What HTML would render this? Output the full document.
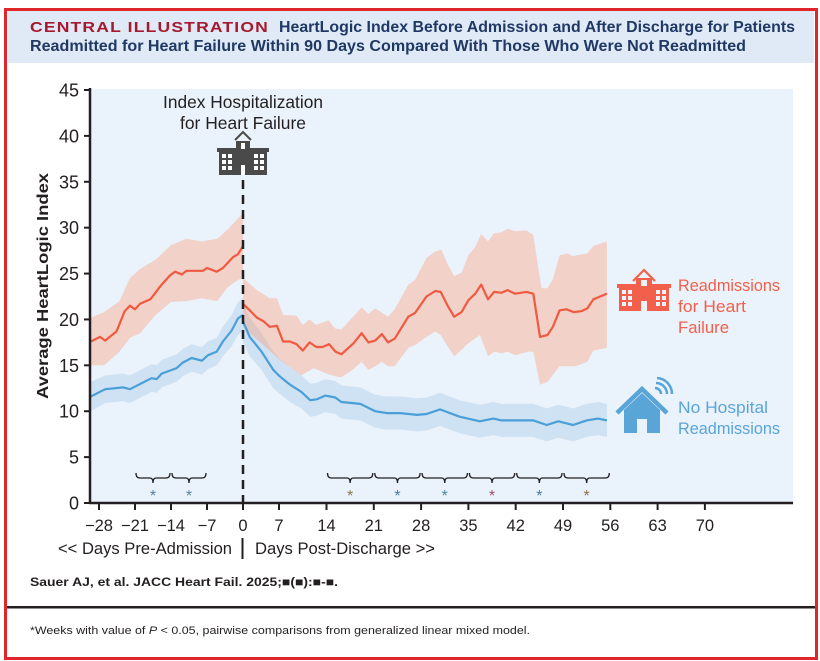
<!DOCTYPE html>
<html><head><meta charset="utf-8"><style>
html,body{margin:0;padding:0;background:#fff;}
svg{display:block;}
text{font-family:"Liberation Sans Narrow","Liberation Sans",sans-serif;}
</style></head><body>
<svg id="chart" width="820" height="661" viewBox="0 0 820 661" xmlns="http://www.w3.org/2000/svg">
<rect x="0" y="0" width="820" height="661" fill="#fff"/>
<rect x="8" y="11" width="806" height="52" fill="#dfeaf6"/>
<text x="30" y="32" font-size="15" font-weight="bold" fill="#a6192e" textLength="239" lengthAdjust="spacingAndGlyphs" style="font-family:'Liberation Sans',sans-serif;letter-spacing:1px">CENTRAL ILLUSTRATION</text>
<text x="279" y="32" font-size="15.5" font-weight="bold" fill="#1f3864" textLength="516" lengthAdjust="spacingAndGlyphs">HeartLogic Index Before Admission and After Discharge for Patients</text>
<text x="30" y="51" font-size="15.5" font-weight="bold" fill="#1f3864" textLength="716" lengthAdjust="spacingAndGlyphs">Readmitted for Heart Failure Within 90 Days Compared With Those Who Were Not Readmitted</text>
<rect x="90" y="89" width="703" height="414" fill="#eaf2fb"/>
<g id="marks"></g>
<g id="axes"></g>
<text x="243" y="108" font-size="17.5" fill="#231f20" text-anchor="middle" textLength="160" lengthAdjust="spacingAndGlyphs">Index Hospitalization</text>
<text x="243" y="129" font-size="17.5" fill="#231f20" text-anchor="middle" textLength="126" lengthAdjust="spacingAndGlyphs">for Heart Failure</text>
<g fill="#4a4a4a">
<polyline points="235,140 243,132 251,140" fill="none" stroke="#4a4a4a" stroke-width="2"/>
<rect x="217" y="148" width="52" height="4"/>
<rect x="219" y="151" width="48" height="24"/>
<rect x="236" y="141" width="14" height="10"/>
<g fill="#fff"><rect x="222" y="154" width="4" height="4"/><rect x="228" y="154" width="4" height="4"/><rect x="222" y="160" width="4" height="4"/><rect x="228" y="160" width="4" height="4"/><rect x="222" y="166" width="4" height="4"/><rect x="228" y="166" width="4" height="4"/><rect x="254" y="154" width="4" height="4"/><rect x="260" y="154" width="4" height="4"/><rect x="254" y="160" width="4" height="4"/><rect x="260" y="160" width="4" height="4"/><rect x="254" y="166" width="4" height="4"/><rect x="260" y="166" width="4" height="4"/><rect x="241" y="165" width="4" height="10"/><rect x="241" y="143" width="4" height="6"/></g>
</g>
<line x1="243" y1="180" x2="243" y2="503" stroke="#231f20" stroke-width="2.5" stroke-dasharray="9,6"/>
<text transform="translate(48,286) rotate(-90)" font-size="16" font-weight="bold" fill="#231f20" text-anchor="middle" textLength="226" lengthAdjust="spacingAndGlyphs">Average HeartLogic Index</text>
<text x="58" y="554" font-size="17" fill="#231f20" textLength="174" lengthAdjust="spacingAndGlyphs">&lt;&lt; Days Pre-Admission</text>
<rect x="241.5" y="538" width="2" height="21" fill="#231f20"/>
<text x="255" y="554" font-size="17" fill="#231f20" textLength="180" lengthAdjust="spacingAndGlyphs">Days Post-Discharge &gt;&gt;</text>
<g>
<g fill="#f2604b">
<polyline points="633,281 644,270 655,281" fill="none" stroke="#f2604b" stroke-width="2.2"/>
<rect x="617" y="284" width="54" height="4"/>
<rect x="619" y="287" width="50" height="24"/>
<rect x="636" y="278" width="16" height="10"/>
<g fill="#eaf2fb"><rect x="622" y="290" width="4" height="4"/><rect x="628" y="290" width="4" height="4"/><rect x="622" y="296" width="4" height="4"/><rect x="628" y="296" width="4" height="4"/><rect x="622" y="302" width="4" height="4"/><rect x="628" y="302" width="4" height="4"/><rect x="656" y="290" width="4" height="4"/><rect x="662" y="290" width="4" height="4"/><rect x="656" y="296" width="4" height="4"/><rect x="662" y="296" width="4" height="4"/><rect x="656" y="302" width="4" height="4"/><rect x="662" y="302" width="4" height="4"/><rect x="641" y="301" width="6" height="10"/><rect x="641" y="280" width="6" height="6"/></g>
</g>
<text x="678" y="291" font-size="17" fill="#f2604b" textLength="102" lengthAdjust="spacingAndGlyphs">Readmissions</text>
<text x="678" y="312" font-size="17" fill="#f2604b" textLength="68" lengthAdjust="spacingAndGlyphs">for Heart</text>
<text x="678" y="333" font-size="17" fill="#f2604b" textLength="51" lengthAdjust="spacingAndGlyphs">Failure</text>
</g>
<g>
<g>
<polyline points="617,413 642,389 667,413" fill="none" stroke="#5aa5d8" stroke-width="4.5"/>
<path d="M624,410 L642,393 L660,410 L660,433 L647,433 L647,419 L637,419 L637,433 L624,433 Z" fill="#5aa5d8"/>
<path d="M655,388 A6,6 0 0 1 661,394" fill="none" stroke="#5aa5d8" stroke-width="2.5"/>
<path d="M656,383 A11,11 0 0 1 667,394" fill="none" stroke="#5aa5d8" stroke-width="2.5"/>
<path d="M657,378 A16,16 0 0 1 672,394" fill="none" stroke="#5aa5d8" stroke-width="2.5"/>
</g>
<text x="678" y="413" font-size="17" fill="#5aa5d8" textLength="90" lengthAdjust="spacingAndGlyphs">No Hospital</text>
<text x="678" y="434" font-size="17" fill="#5aa5d8" textLength="102" lengthAdjust="spacingAndGlyphs">Readmissions</text>
</g>
<text x="30" y="586" font-size="12" font-weight="bold" fill="#231f20" textLength="308" lengthAdjust="spacingAndGlyphs">Sauer AJ, et al. JACC Heart Fail. 2025;■(■):■-■.</text>
<rect x="6" y="606" width="810" height="2.5" fill="#231f20"/>
<text x="30" y="634" font-size="11" fill="#231f20" textLength="500" lengthAdjust="spacingAndGlyphs">*Weeks with value of <tspan font-style="italic">P</tspan> &lt; 0.05, pairwise comparisons from generalized linear mixed model.</text>
<rect x="5.5" y="9.5" width="811" height="649" fill="none" stroke="#e0262b" stroke-width="3"/>
</svg>
<script>
// ---- data ----
const redPreDays = [-29.6,-27.8,-26.8,-24.6,-23,-22,-21,-20,-18,-16.1,-14.2,-13.2,-11.9,-11,-7.8,-7,-5.1,-3.9,-1.9,-1,0];
const redPre = [17.6,18.1,17.7,18.7,20.9,21.5,21.1,21.7,22.2,23.6,24.8,25.2,24.9,25.3,25.3,25.6,25.2,25.6,26.8,27.1,28.0];
const redPreBandDays = [-29.6,-27,-24,-22,-20,-17,-14,-11,-8,-5,-3,-1,0];
const redPreHi = [20.2,20.8,22,24.5,25.5,26.5,28.1,28.8,28.5,28.8,29.8,31,31.6];
const redPreLo = [15.0,15.0,16.5,18,18.5,20.5,21.9,22,22.3,22,23.5,24.3,24.5];
const redPostDays = [0,1.3,2.7,4.0,5.2,6.6,7.6,8.6,9.6,10.5,11.5,12.5,13.4,14.4,15.3,16.2,18.0,19.2,20.2,21.2,22.2,23.1,24.1,26.1,27.1,28.8,30.1,30.9,32.0,32.9,34.0,35.0,36.0,36.9,37.9,38.8,39.9,40.8,41.9,43.6,44.6,45.6,46.7,47.5,48.5,49.5,50.6,51.7,52.6,53.5,54.5,55.5];
const redPost = [21.7,21.0,20.2,19.8,19.2,19.3,17.6,17.6,17.3,16.6,17.5,17.0,17.0,17.3,16.5,16.2,17.4,18.5,17.5,17.7,18.4,17.5,17.9,20.3,20.7,22.5,23.1,23.0,21.4,20.3,20.8,22.1,22.8,23.8,22.2,23.0,22.9,23.2,22.8,23.0,22.8,18.1,18.3,19.2,21.0,21.1,20.8,20.9,21.2,22.2,22.5,22.8];
const redPostHiDays = [0,2.7,5.2,6.6,7.6,9.6,10.5,11.5,12.5,14.3,15.3,16.2,19.2,20.2,21.2,23.1,24.1,26.1,27.1,28.8,30.1,31,32,32.9,34,35,36,36.9,37.9,38.8,39.9,40.8,41.9,43.6,44.6,45.8,46.7,47.5,48.5,49.7,50.4,52.6,53.5,55.5];
const redPostHi = [24.5,23.2,22.3,22.3,20.5,20.4,19.4,20.0,19.4,19.9,19.0,18.9,21.3,20.6,21.2,20.3,21.1,23.8,24.3,26.7,27.4,27.6,25.9,24.7,25.1,27.0,27.9,29.3,28.5,29.4,29.5,29.9,29.6,29.7,29.2,23.4,23.4,24.4,27.0,27.2,26.9,27.2,28.0,28.5];
const redPostLoDays = [0,7.1,10.3,12.1,14.0,15.3,16.2,18.0,19.2,20.2,21.2,22.2,23.1,24.1,26.1,27.1,28.8,30.1,30.9,32.0,32.9,34.0,35.0,36.7,37.9,38.8,39.9,40.8,41.9,43.9,44.6,45.6,46.7,48.5,49.5,50.9,52.6,53.5,55.5];
const redPostLo = [19.2,15.6,13.9,14.7,14.1,13.8,13.7,14.6,15.4,14.5,14.9,15.4,14.9,14.9,16.9,17.2,18.1,18.7,18.3,17.0,16.0,16.7,17.4,18.3,16.0,16.5,16.3,16.5,16.1,16.5,16.5,12.9,13.2,14.9,14.9,14.9,15.4,16.6,16.9];
const bluePreDays = [-29.6,-26.8,-23.3,-22,-17.8,-16.8,-15.8,-12.9,-11.7,-10,-8,-6.8,-5.1,-3.9,-2.2,-1,0];
const bluePre = [11.6,12.4,12.6,12.4,13.6,13.5,14.1,14.7,15.3,15.8,15.5,16.1,16.5,17.6,18.8,20.1,20.5];
const bluePreCI = [1.6,1.5,1.5,1.5,1.5,1.5,1.5,1.5,1.5,1.5,1.5,1.5,1.5,1.6,1.7,1.8,1.8];
const bluePostDays = [0,1.3,3.6,5.9,7.1,8.6,10.3,11.6,12.6,13.8,15.3,16.2,19.0,21.2,22.9,24.9,27.4,28.8,30.8,33.7,36.7,38.7,39.9,41.6,44.6,46.6,48.3,50.5,52.5,54.2,55.5];
const bluePost = [19.8,18.1,16.5,14.5,13.8,12.9,12.1,11.2,11.3,11.7,11.5,11.0,10.8,10.0,9.8,9.8,9.6,9.7,10.2,9.4,8.9,9.2,9.0,9.0,9.0,8.5,8.9,8.5,9.0,9.2,9.0];
const bluePostCI = [2.2,2.1,2.0,2.0,1.9,1.9,1.8,1.8,1.8,1.8,1.8,1.8,1.8,1.8,1.8,1.8,1.8,1.8,1.8,1.8,1.8,1.8,1.8,1.8,1.8,1.8,1.8,1.8,1.8,1.8,1.8];
const sigWeekStarts = [-21,-14,14,21,28,35,42,49];
const sigColors = ["#5a7fa0","#5a8a9a","#8a7a50","#4a7aa0","#4a8a9a","#a0506a","#4a7aa0","#8a7050"];
const xTicks = [-28,-21,-14,-7,0,7,14,21,28,35,42,49,56,63,70];
const yTicks = [0,5,10,15,20,25,30,35,40,45];

// ---- scales ----
function xOf(d){
  if(d<=7) return 243 + d*36/7;
  if(d<=14) return 279 + (d-7)*47.5/7;
  return 326.5 + (d-14)*47.3/7;
}
function yOf(v){ return 503 - v*(413/45); }
const NS="http://www.w3.org/2000/svg";
const marks=document.getElementById('marks');
const axes=document.getElementById('axes');
function mk(tag,attrs,parent){const e=document.createElementNS(NS,tag);for(const k in attrs)e.setAttribute(k,attrs[k]);(parent||marks).appendChild(e);return e;}
function linePts(days,vals){return days.map((d,i)=>xOf(d).toFixed(1)+','+yOf(vals[i]).toFixed(1)).join(' ');}
function bandPts(hd,hv,ld,lv){
  const up=hd.map((d,i)=>xOf(d).toFixed(1)+','+yOf(hv[i]).toFixed(1));
  const lo=ld.map((d,i)=>xOf(d).toFixed(1)+','+yOf(lv[i]).toFixed(1)).reverse();
  return up.concat(lo).join(' ');
}
const BLUEF='rgba(114,167,216,0.22)', REDF='rgba(255,150,110,0.36)';
let e;
e=mk('polygon',{points:bandPts(bluePreDays,bluePre.map((v,i)=>v+bluePreCI[i]),bluePreDays,bluePre.map((v,i)=>v-bluePreCI[i])),fill:BLUEF});


e=mk('polygon',{points:bandPts(bluePostDays,bluePost.map((v,i)=>v+bluePostCI[i]),bluePostDays,bluePost.map((v,i)=>v-bluePostCI[i])),fill:BLUEF});


e=mk('polygon',{points:bandPts(redPreBandDays,redPreHi,redPreBandDays,redPreLo),fill:REDF});


e=mk('polygon',{points:bandPts(redPostHiDays,redPostHi,redPostLoDays,redPostLo),fill:REDF});


e=mk('polyline',{points:linePts(bluePreDays,bluePre),fill:'none',stroke:'#4a9fd8','stroke-width':2.2,'stroke-linejoin':'round'});


e=mk('polyline',{points:linePts(bluePostDays,bluePost),fill:'none',stroke:'#4a9fd8','stroke-width':2.2,'stroke-linejoin':'round'});


e=mk('polyline',{points:linePts(redPreDays,redPre),fill:'none',stroke:'#f05a40','stroke-width':2.2,'stroke-linejoin':'round'});


e=mk('polyline',{points:linePts(redPostDays,redPost),fill:'none',stroke:'#f05a40','stroke-width':2.2,'stroke-linejoin':'round'});



// significance brackets
sigWeekStarts.forEach((w,i)=>{
  const x1=xOf(w)+1, x2=xOf(w+7)-1, xm=(x1+x2)/2;
  const b=mk('path',{d:`M${x1},473 Q${x1},478 ${x1+4},478 L${xm-3},478 Q${xm},478 ${xm},483 Q${xm},478 ${xm+3},478 L${x2-4},478 Q${x2},478 ${x2},473`,fill:'none',stroke:'#231f20','stroke-width':1.3});
  
  
  const s=mk('text',{x:xm,y:501,'font-size':16,'text-anchor':'middle',fill:sigColors[i]});
  s.textContent='*';
  
  
});

// axes
e=mk('line',{x1:90,y1:88,x2:90,y2:504,stroke:'#231f20','stroke-width':2.5},axes);


e=mk('line',{x1:89,y1:503,x2:793,y2:503,stroke:'#231f20','stroke-width':2.5},axes);


yTicks.forEach(v=>{
  const y=yOf(v);
  const t=mk('line',{x1:84,y1:y,x2:90,y2:y,stroke:'#231f20','stroke-width':2},axes);
  
  
  const l=mk('text',{x:79,y:y+6.5,'font-size':18,'text-anchor':'end',fill:'#231f20'},axes);
  l.textContent=v;
  
  
});
xTicks.forEach(d=>{
  const x=xOf(d);
  const t=mk('line',{x1:x,y1:503,x2:x,y2:510,stroke:'#231f20','stroke-width':2},axes);
  
  
  const l=mk('text',{x:x,y:531,'font-size':16.5,'text-anchor':'middle',fill:'#231f20'},axes);
  l.textContent=d<0?'\u2212'+(-d):String(d);
  
  
});
</script>
</body></html>
